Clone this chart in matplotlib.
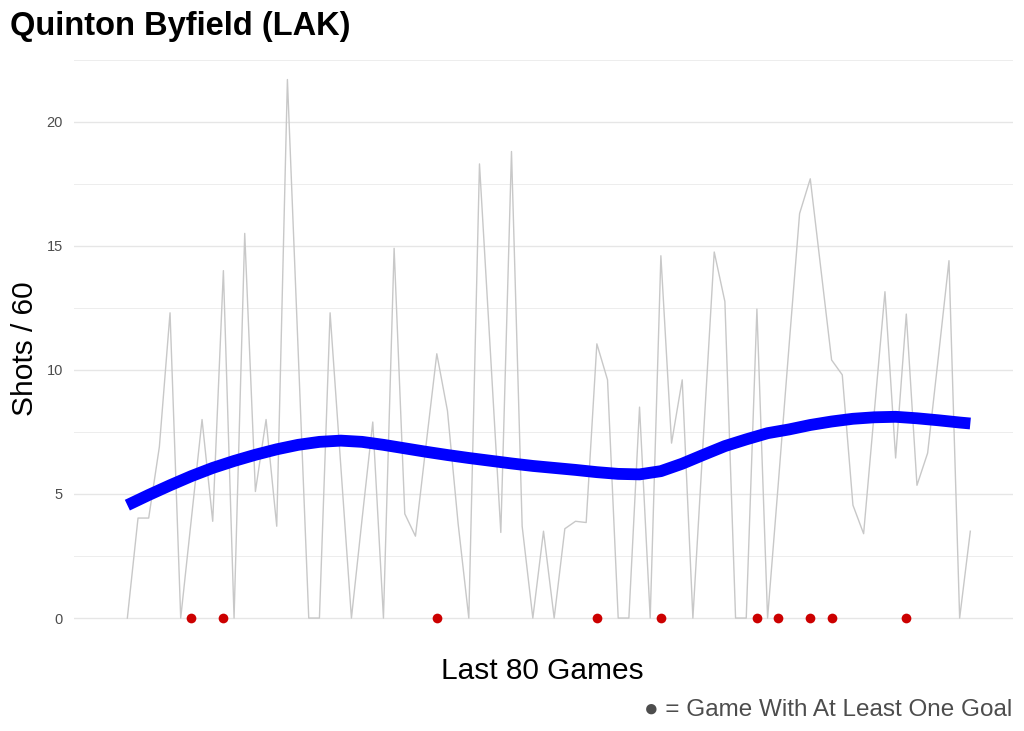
import matplotlib
matplotlib.use("Agg")
import matplotlib.pyplot as plt
import numpy as np

plt.rcParams['font.family'] = ['Liberation Sans', 'DejaVu Sans']

title = "Quinton Byfield (LAK)"
x_label = "Last 80 Games"
y_label = "Shots / 60"
caption = "\u25CF = Game With At Least One Goal"

games = list(range(1, 81))
shots_per_60 = [
    0, 4.03, 4.03, 6.9, 12.3, 0, 4.0, 8.0, 3.9, 14.0,
    0, 15.5, 5.1, 8.0, 3.7, 21.7, 10.85, 0, 0, 12.3,
    6.15, 0, 4.0, 7.9, 0, 14.9, 4.2, 3.3, 7.0, 10.65,
    8.35, 3.8, 0, 18.3, 10.9, 3.45, 18.8, 3.7, 0, 3.5,
    0, 3.6, 3.9, 3.85, 11.05, 9.6, 0, 0, 8.5, 0,
    14.6, 7.05, 9.6, 0, 7.4, 14.75, 12.75, 0, 0, 12.45,
    0, 5.4, 10.9, 16.3, 17.7, 14.05, 10.4, 9.8, 4.55, 3.4,
    8.3, 13.15, 6.45, 12.25, 5.35, 6.65, 10.5, 14.4, 0, 3.5,
]
goal_games = [7, 10, 30, 45, 51, 60, 62, 65, 67, 74]

smooth_games = [1, 3, 5, 7, 9, 11, 13, 15, 17, 19, 21, 23, 25, 27, 29, 31, 33,
                35, 37, 39, 41, 43, 45, 47, 49, 51, 53, 55, 57, 59, 61, 63, 65,
                67, 69, 71, 73, 75, 77, 79, 80]
smooth_values = [4.55, 4.96, 5.35, 5.72, 6.05, 6.33, 6.58, 6.8, 6.98, 7.1, 7.15,
                 7.1, 6.98, 6.84, 6.7, 6.57, 6.45, 6.34, 6.23, 6.13, 6.05, 5.97,
                 5.88, 5.81, 5.79, 5.92, 6.22, 6.58, 6.93, 7.2, 7.45, 7.6, 7.78,
                 7.92, 8.03, 8.09, 8.11, 8.05, 7.97, 7.88, 7.84]

y_ticks = [0, 5, 10, 15, 20]
y_minor = [2.5, 7.5, 12.5, 17.5, 22.5]

W, H = 1024, 731
fig = plt.figure(figsize=(W / 100, H / 100), dpi=100)
left, right, top, bottom = 74, 1013, 52.6, 645
ax = fig.add_axes([left / W, 1 - bottom / H, (right - left) / W, (bottom - top) / H])

ax.plot(games, shots_per_60, color='#c8c8c8', lw=1.0, zorder=2)
ax.plot(smooth_games, smooth_values, color='#0000ff', lw=8.5,
        solid_capstyle='butt', solid_joinstyle='round', zorder=3)
ax.plot(goal_games, [0] * len(goal_games), 'o', color='#cc0000', ms=7,
        mec='none', zorder=4)

ax.set_xlim(-4, 84)
ax.set_ylim(-1.085, 22.785)
ax.set_yticks(y_ticks)
ax.set_yticks(y_minor, minor=True)
ax.set_xticks([])
ax.tick_params(axis='y', which='both', length=0, pad=8, labelsize=10.5,
               labelcolor='#4d4d4d')
ax.grid(axis='y', which='major', color='#e6e6e6', lw=1.0, zorder=0)
ax.grid(axis='y', which='minor', color='#ededed', lw=0.7, zorder=0)
ax.set_axisbelow(True)
for s in ax.spines.values():
    s.set_visible(False)

fig.text(10 / W, 1 - 35 / H, title, fontsize=23.5, fontweight='bold',
         ha='left', va='baseline', color='black')
fig.text(542 / W, 1 - 679 / H, x_label, fontsize=21.5, ha='center',
         va='baseline', color='black')
fig.text(25 / W, 1 - 349 / H, y_label, fontsize=21.5, rotation=90,
         ha='center', va='center', color='black')
fig.text(1012 / W, 1 - 716 / H, caption, fontsize=17.5, ha='right',
         va='baseline', color='#4d4d4d')

fig.savefig('out.png', dpi=100)
